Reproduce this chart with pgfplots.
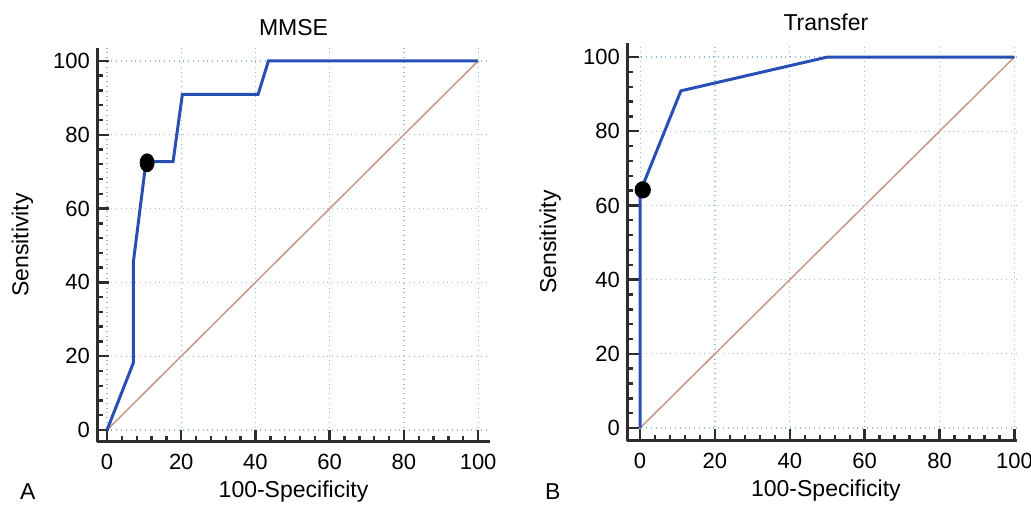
\documentclass[border=0pt]{standalone}
\usepackage{fontspec}
\setmainfont{Liberation Sans}
\usepackage{pgfplots}
\pgfplotsset{compat=1.18}

\definecolor{rocblue}{RGB}{40,80,180}
\definecolor{diag}{RGB}{200,150,135}
\definecolor{gridblue}{RGB}{150,190,215}
\definecolor{spine}{RGB}{45,45,45}

\pgfplotsset{
  rocaxis/.style={
    scale only axis,
    anchor=south west,
    axis x line*=bottom, axis y line*=left,
    xtick pos=bottom, ytick pos=left,
    axis line style={spine, line width=1.5pt},
    xtick={0,20,...,100}, ytick={0,20,...,100},
    minor tick num=4,
    tick align=inside,
    major tick length=6pt, minor tick length=3.2pt,
    every tick/.style={spine, line width=1.2pt},
    grid=major,
    major grid style={gridblue, dotted, line width=0.6pt},
    ticklabel style={font=\fontsize{11}{13}\selectfont},
    xticklabel style={yshift=-2.5pt},
    /pgf/number format/assume math mode=true,
    label style={font=\fontsize{11.5}{14}\selectfont},
    title style={font=\fontsize{11.5}{14}\selectfont,
      at={(axis description cs:0.5,1.05)}, anchor=center},
    xlabel={100-Specificity},
    ylabel={Sensitivity},
    xlabel style={at={(axis description cs:0.5,0)}, anchor=center, yshift=-25pt},
    clip=false,
  },
  roc/.style={rocblue, line width=1.5pt, mark=none},
  chance/.style={diag, line width=0.75pt, mark=none},
}

\begin{document}
\begin{tikzpicture}
\useasboundingbox (0,0) rectangle (515.5pt,253pt);

% A: MMSE
\begin{axis}[rocaxis,
  at={(48.5pt,32pt)},
  width=196.5pt, height=197pt,
  xmin=-2.7, xmax=103.2, ymin=-3.25, ymax=103.5,
  title={MMSE},
  title style={at={(axis description cs:0.5,1.022)}},
  ylabel style={at={(axis description cs:-0.19,0.5)}, anchor=center},
  ]
  \addplot[chance] coordinates {(0,0) (100,100)};
  \addplot[roc] coordinates {
    (0,0) (7.1,18.2) (7.1,45.5) (10.5,72.7) (17.8,72.7)
    (20.3,90.9) (40.7,90.9) (43.5,100) (100,100)};
  \addplot[only marks, mark=*, mark size=4.5pt, mark options={black, xscale=0.78}]
    coordinates {(10.8,72.4)};
  \node[font=\fontsize{11.5}{14}\selectfont] at (axis description cs:-0.176,-0.127) {A};
\end{axis}

% B: Transfer
\begin{axis}[rocaxis,
  at={(313.5pt,32.5pt)},
  width=195pt, height=199pt,
  xmin=-3.5, xmax=100.7, ymin=-3.5, ymax=103.8,
  title={Transfer},
  title style={at={(axis description cs:0.51,1.022)}},
  xlabel style={at={(axis description cs:0.51,0)}},
  ylabel style={at={(axis description cs:-0.197,0.5)}, anchor=center},
  ]
  \addplot[chance] coordinates {(0,0) (100,100)};
  \addplot[roc] coordinates {
    (0,0) (0,63.6) (10.9,90.9) (50,100) (100,100)};
  \addplot[only marks, mark=*, mark size=4.1pt, mark options={black, xscale=0.94}]
    coordinates {(0.7,64.2)};
  \node[font=\fontsize{11.5}{14}\selectfont] at (axis description cs:-0.19,-0.127) {B};
\end{axis}
\end{tikzpicture}
\end{document}
